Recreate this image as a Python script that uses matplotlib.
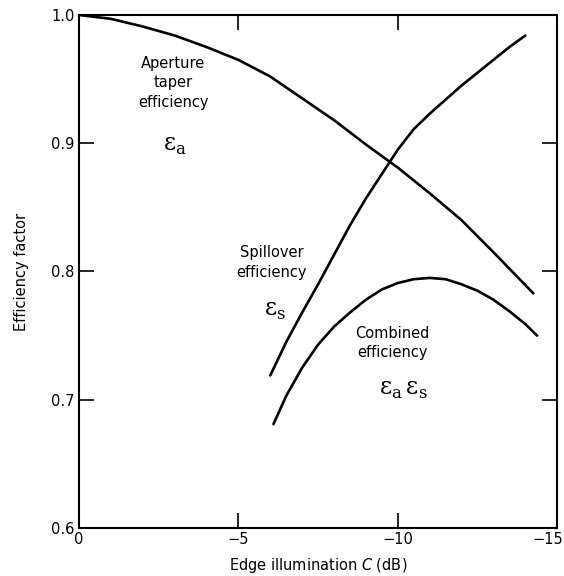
import matplotlib
matplotlib.use("Agg")
import matplotlib.pyplot as plt
import matplotlib.transforms as mtransforms

# Edge illumination (dB) and efficiency values
taper_x = [0, -1, -2, -3, -4, -5, -6, -7, -8, -9, -10, -11, -12, -13, -14.25]
taper_y = [1.0, 0.997, 0.991, 0.984, 0.975, 0.965, 0.952, 0.935, 0.918, 0.899,
           0.881, 0.861, 0.840, 0.815, 0.783]

spill_x = [-6.0, -6.5, -7.0, -7.5, -8.0, -8.5, -9.0, -9.5, -10.0, -10.5, -11.0,
           -11.5, -12.0, -12.5, -13.0, -13.5, -14.0]
spill_y = [0.719, 0.745, 0.768, 0.790, 0.813, 0.836, 0.857, 0.876, 0.895, 0.911,
           0.923, 0.934, 0.945, 0.955, 0.965, 0.975, 0.984]

comb_x = [-6.1, -6.5, -7.0, -7.5, -8.0, -8.5, -9.0, -9.5, -10.0, -10.5, -11.0,
          -11.5, -12.0, -12.5, -13.0, -13.5, -14.0, -14.37]
comb_y = [0.681, 0.703, 0.725, 0.743, 0.757, 0.768, 0.778, 0.786, 0.791, 0.794,
          0.795, 0.794, 0.790, 0.785, 0.778, 0.769, 0.759, 0.750]

x_ticks = [0, -5, -10, -15]
x_labels = ["0", "\u22125", "\u221210", "\u221215"]
y_ticks = [0.6, 0.7, 0.8, 0.9, 1.0]
y_labels = ["0.6", "0.7", "0.8", "0.9", "1.0"]

plt.rcParams["font.family"] = ["DejaVu Sans"]
plt.rcParams["mathtext.fontset"] = "custom"
plt.rcParams["mathtext.rm"] = "DejaVu Serif"
plt.rcParams["mathtext.it"] = "DejaVu Sans:italic"

fig = plt.figure(figsize=(5.64, 5.76), dpi=100)
ax = fig.add_axes([0.140, 0.0833, 0.848, 0.8907])

lw = 1.9
ax.plot(taper_x, taper_y, color="black", lw=lw, solid_capstyle="round")
ax.plot(spill_x, spill_y, color="black", lw=lw, solid_capstyle="round")
ax.plot(comb_x, comb_y, color="black", lw=lw, solid_capstyle="round")

ax.set_xlim(0, -15)
ax.set_ylim(0.6, 1.0)
ax.set_xticks(x_ticks)
ax.set_xticklabels(x_labels)
ax.set_yticks(y_ticks)
ax.set_yticklabels(y_labels)
ax.tick_params(direction="in", length=11, width=1.2, top=True, right=True,
               labelsize=10.5, pad=3)

# pull the last x label in so it stays inside the figure
last = ax.get_xticklabels()[-1]
last.set_transform(last.get_transform() +
                   mtransforms.ScaledTranslation(-7 / 72, 0, fig.dpi_scale_trans))

for s in ax.spines.values():
    s.set_linewidth(1.5)

ax.set_xlabel("Edge illumination $\\it{C}$ (dB)", fontsize=10.5, labelpad=6)
ax.set_ylabel("Efficiency factor", fontsize=10.5, labelpad=16)

# curve annotations
txt = dict(fontsize=10.5, ha="center", va="center", linespacing=1.35)
ax.text(-2.95, 0.947, "Aperture\ntaper\nefficiency", **txt)
ax.text(-6.05, 0.807, "Spillover\nefficiency", **txt)
ax.text(-9.82, 0.744, "Combined\nefficiency", **txt)

eps = dict(fontsize=17, ha="center", va="center")
ax.text(-3.0, 0.899, r"$\mathrm{ε}_\mathrm{a}$", **eps)
ax.text(-6.15, 0.770, r"$\mathrm{ε}_\mathrm{s}$", **eps)
ax.text(-10.17, 0.708, r"$\mathrm{ε}_\mathrm{a}\,\mathrm{ε}_\mathrm{s}$", **eps)

fig.savefig("out.png", dpi=100)
